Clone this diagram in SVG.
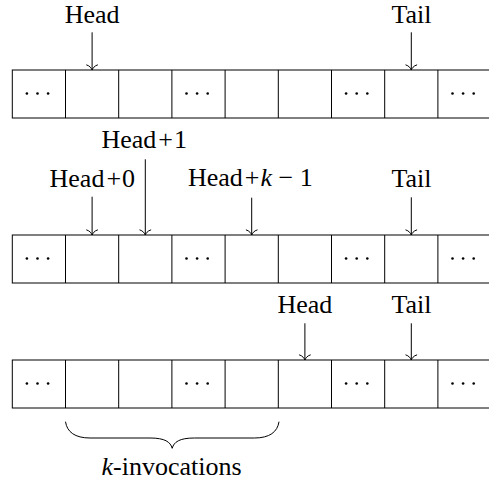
<svg xmlns="http://www.w3.org/2000/svg" width="489" height="481" viewBox="0 0 489 481">
<style>
  .cell { fill: none; stroke: #000; stroke-width: 1; }
  .lbl { font-family: "Liberation Serif", "Times New Roman", serif; font-size: 26px; fill: #000; text-anchor: middle; }
  .it { font-style: italic; }
  .arr { stroke: #000; stroke-width: 1; fill: none; marker-end: url(#to); }
  .brace { stroke: #000; stroke-width: 1; fill: none; }
  .dot { fill: #000; }
</style>
<defs>
  <marker id="to" markerUnits="userSpaceOnUse" orient="auto" markerWidth="14" markerHeight="16" refX="0" refY="0" viewBox="-7 -8 14 16" overflow="visible">
    <path d="M -5.2 -5.8 C -4.2 -2.2 -1.5 -0.6 0 0 C -1.5 0.6 -4.2 2.2 -5.2 5.8" fill="none" stroke="#000" stroke-width="1"/>
  </marker>
  <g id="row">
    <rect class="cell" x="12.3" y="0" width="480" height="48"/>
    <path class="cell" d="M65.5 0V48M118.7 0V48M171.9 0V48M225.1 0V48M278.3 0V48M331.5 0V48M384.7 0V48M437.9 0V48"/>
    <g class="dot">
      <circle cx="26.9" cy="23.5" r="1.3"/><circle cx="37.5" cy="23.5" r="1.3"/><circle cx="48.1" cy="23.5" r="1.3"/>
      <circle cx="186.5" cy="23.5" r="1.3"/><circle cx="197.1" cy="23.5" r="1.3"/><circle cx="207.7" cy="23.5" r="1.3"/>
      <circle cx="346.1" cy="23.5" r="1.3"/><circle cx="356.7" cy="23.5" r="1.3"/><circle cx="367.3" cy="23.5" r="1.3"/>
      <circle cx="452.5" cy="23.5" r="1.3"/><circle cx="463.1" cy="23.5" r="1.3"/><circle cx="473.7" cy="23.5" r="1.3"/>
    </g>
  </g>
</defs>

<g id="array1"><use href="#row" x="0" y="70"/></g>
<g id="array2"><use href="#row" x="0" y="235"/></g>
<g id="array3"><use href="#row" x="0" y="360"/></g>

<g id="label-head-1"><text class="lbl" x="92.2" y="22.7">Head</text></g>
<g id="label-tail-1"><text class="lbl" x="411.5" y="22.7">Tail</text></g>
<g id="label-head1-2"><text class="lbl" x="144.2" y="148.3">Head<tspan dx="2">+</tspan><tspan dx="1">1</tspan></text></g>
<g id="label-head0-2"><text class="lbl" x="92.3" y="186.7">Head<tspan dx="2">+</tspan><tspan dx="1">0</tspan></text></g>
<g id="label-headk-2"><text class="lbl" x="250.3" y="185.5">Head<tspan dx="2">+</tspan><tspan class="it" dx="1">k</tspan> − 1</text></g>
<g id="label-tail-2"><text class="lbl" x="411.5" y="186.7">Tail</text></g>
<g id="label-head-3"><text class="lbl" x="304.9" y="313.3">Head</text></g>
<g id="label-tail-3"><text class="lbl" x="411.5" y="313.3">Tail</text></g>
<g id="label-k"><text class="lbl" x="171.5" y="475"><tspan class="it">k</tspan>-invocations</text></g>

<g id="connectors">
  <path class="arr" d="M92.1 32.3V70"/>
  <path class="arr" d="M411.3 32.3V70"/>
  <path class="arr" d="M92.1 196.7V235"/>
  <path class="arr" d="M145.3 159.3V235"/>
  <path class="arr" d="M251.7 197.7V235"/>
  <path class="arr" d="M411.3 197.3V235"/>
  <path class="arr" d="M304.9 323.3V360"/>
  <path class="arr" d="M411.3 323.3V360"/>
  <path class="brace" d="M65.5 421.7 C 67 432 75 438 90 438 L 150 438 C 165 438 170.5 442 172.2 448.3 C 173.9 442 179.4 438 194.4 438 L 254.5 438 C 269.5 438 277.5 432 279 421.7"/>
</g>
</svg>
